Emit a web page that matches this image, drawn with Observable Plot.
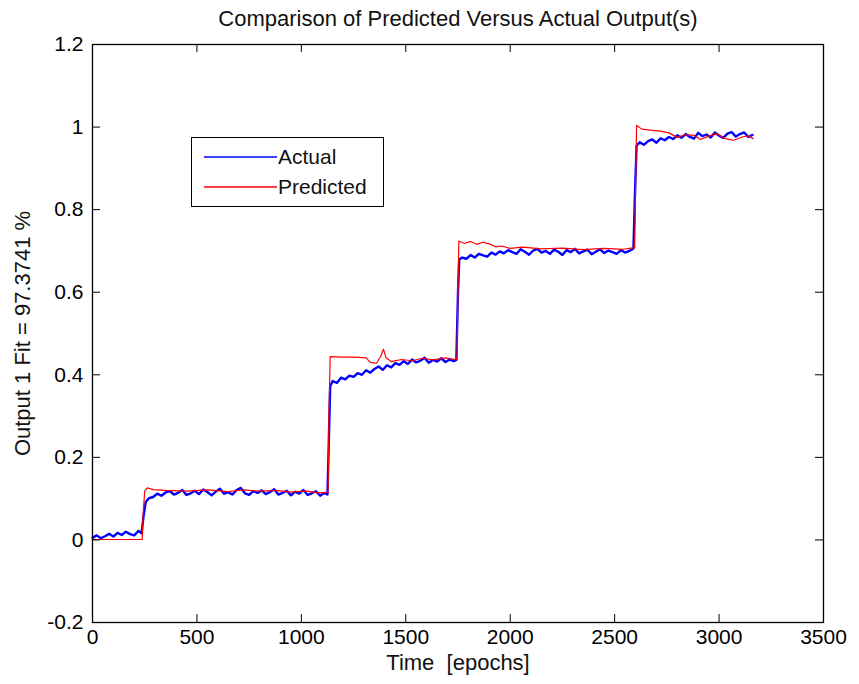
<!DOCTYPE html>
<html>
<head>
<meta charset="utf-8">
<script src="https://cdn.jsdelivr.net/npm/d3@7"></script>
<script src="https://cdn.jsdelivr.net/npm/@observablehq/plot@0.6"></script>
<style>
  html, body { margin: 0; padding: 0; background: #fff; }
  #wrap { position: relative; width: 859px; height: 684px; font-family: "Liberation Sans", Arial, sans-serif; }
  #legend { position: absolute; left: 191px; top: 137px; width: 193px; height: 70px; border: 1.5px solid #000; background: #fff; box-sizing: border-box; }
  #legend svg { position: absolute; left: 0; top: 0; }
</style>
</head>
<body>
<div id="wrap"><div id="chart"></div><div id="legend"></div></div>
<script>
// ---- data ----
const chartTitle = "Comparison of Predicted Versus Actual Output(s)";
const xLabel = "Time\u00a0 [epochs]";
const yLabel = "Output 1 Fit = 97.3741 %";
const seriesNames = ["Actual", "Predicted"];

const xTicks = [0, 500, 1000, 1500, 2000, 2500, 3000, 3500];
const xTickLabels = ["0", "500", "1000", "1500", "2000", "2500", "3000", "3500"];
const yTicks = [-0.2, 0, 0.2, 0.4, 0.6, 0.8, 1, 1.2];
const yTickLabels = ["-0.2", "0", "0.2", "0.4", "0.6", "0.8", "1", "1.2"];

const actualTime = [
  0, 20, 40, 60, 80, 100, 120, 140, 160, 180, 200, 220, 235,
  245, 255, 270,
  290, 310, 330, 350, 370, 390, 410, 430, 450, 470, 490, 510, 530, 550, 570, 590, 610, 630, 650, 670,
  690, 710, 730, 750, 770, 790, 810, 830, 850, 870, 890, 910, 930, 950, 970, 990, 1010, 1030, 1050, 1070,
  1090, 1110, 1125,
  1132, 1138, 1150, 1170, 1190, 1210, 1230, 1250, 1270, 1290, 1310, 1330, 1350, 1370, 1390, 1410, 1430,
  1450, 1470, 1490, 1510, 1530, 1550, 1570, 1590, 1610, 1630, 1650, 1670, 1690, 1710, 1730, 1742,
  1750, 1756, 1770, 1790, 1810, 1830, 1850, 1870, 1890, 1910, 1930, 1950, 1970, 1990, 2010, 2030, 2050,
  2070, 2090, 2110, 2130, 2150, 2170, 2190, 2210, 2230, 2250, 2270, 2290, 2310, 2330, 2350, 2370, 2390,
  2410, 2430, 2450, 2470, 2490, 2510, 2530, 2550, 2570, 2590,
  2598, 2605, 2620, 2640, 2660, 2680, 2700, 2720, 2740, 2760, 2780, 2800, 2820, 2840, 2860, 2880, 2900,
  2920, 2940, 2960, 2980, 3000, 3020, 3040, 3060, 3080, 3100, 3120, 3140, 3160
];
const actualValue = [
  0.005, 0.011, 0.004, 0.009, 0.015, 0.008, 0.017, 0.012, 0.020, 0.014, 0.011, 0.022, 0.016,
  0.060, 0.092, 0.101,
  0.104, 0.112, 0.107, 0.115, 0.118, 0.110, 0.114, 0.121, 0.109, 0.113, 0.119, 0.111, 0.122, 0.116, 0.108, 0.117, 0.124, 0.112, 0.115, 0.110,
  0.121, 0.126, 0.113, 0.109, 0.118, 0.114, 0.120, 0.111, 0.116, 0.123, 0.110, 0.114, 0.119, 0.108, 0.117, 0.112, 0.121, 0.109, 0.113, 0.118,
  0.107, 0.114, 0.110,
  0.250, 0.372, 0.385, 0.380, 0.393, 0.389, 0.398, 0.395, 0.404, 0.400, 0.411, 0.405, 0.414, 0.420, 0.412, 0.423, 0.418,
  0.428, 0.424, 0.433, 0.426, 0.437, 0.430, 0.434, 0.441, 0.429, 0.436, 0.432, 0.440, 0.431, 0.437, 0.433, 0.436,
  0.600, 0.679, 0.684, 0.681, 0.690, 0.684, 0.693, 0.689, 0.686, 0.696, 0.691, 0.699, 0.694, 0.702, 0.697, 0.693, 0.704,
  0.698, 0.691, 0.701, 0.705, 0.696, 0.700, 0.693, 0.703, 0.698, 0.690, 0.702, 0.697, 0.705, 0.694, 0.699, 0.703, 0.692,
  0.698, 0.704, 0.695, 0.701, 0.697, 0.693, 0.702, 0.696, 0.700, 0.706,
  0.850, 0.955, 0.963, 0.957, 0.966, 0.970, 0.962, 0.973, 0.968, 0.976, 0.971, 0.980, 0.974, 0.983, 0.976, 0.972, 0.986,
  0.978, 0.982, 0.975, 0.987, 0.979, 0.974, 0.984, 0.988, 0.977, 0.983, 0.987, 0.976, 0.981
];

const predictedTime = [
  0, 238, 242, 250, 262, 290, 350, 450, 550, 650, 720, 800, 880, 950, 1020, 1080, 1128,
  1132, 1138, 1200, 1260, 1310, 1330, 1360, 1380, 1393, 1405, 1430, 1480, 1530, 1580, 1630, 1690, 1745,
  1749, 1754, 1780, 1810, 1840, 1870, 1900, 1930, 1960, 2000, 2060, 2150, 2250, 2350, 2450, 2540, 2596,
  2600, 2605, 2630, 2680, 2720, 2760, 2800, 2840, 2880, 2910, 2950, 2990, 3030, 3070, 3110, 3140, 3163
];
const predictedValue = [
  0.001, 0.001, 0.060, 0.118, 0.126, 0.122, 0.120, 0.118, 0.121, 0.117, 0.121, 0.118, 0.120, 0.116, 0.119, 0.114, 0.115,
  0.300, 0.444, 0.443, 0.443, 0.441, 0.430, 0.428, 0.445, 0.462, 0.442, 0.432, 0.437, 0.434, 0.440, 0.436, 0.441, 0.436,
  0.580, 0.724, 0.718, 0.723, 0.716, 0.721, 0.717, 0.710, 0.712, 0.706, 0.709, 0.705, 0.707, 0.703, 0.706, 0.704, 0.708,
  0.850, 1.004, 0.995, 0.992, 0.990, 0.986, 0.975, 0.982, 0.980, 0.970, 0.978, 0.984, 0.972, 0.968, 0.976, 0.979, 0.972
];

const colors = ["#0000ff", "#ff0000"];

// ---- layout ----
const W = 859, H = 684;
const mL = 92, mR = 36, mT = 44, mB = 62;
const fW = W - mL - mR, fH = H - mT - mB;
const tickLen = 8;
const font = "\"Liberation Sans\", Arial, sans-serif";

const actual = actualTime.map((t, i) => ({t, v: actualValue[i]}));
const predicted = predictedTime.map((t, i) => ({t, v: predictedValue[i]}));

const plot = Plot.plot({
  width: W, height: H,
  marginLeft: mL, marginRight: mR, marginTop: mT, marginBottom: mB,
  style: {fontFamily: font, fontSize: "21px", background: "#fff", color: "#000", overflow: "visible"},
  x: {domain: [0, 3500], nice: false},
  y: {domain: [-0.2, 1.2], nice: false},
  marks: [
    Plot.lineY(actual, {x: "t", y: "v", stroke: colors[0], strokeWidth: 2.4, curve: "linear"}),
    Plot.lineY(predicted, {x: "t", y: "v", stroke: colors[1], strokeWidth: 1.2, curve: "linear"}),
    // inward ticks on all four sides
    Plot.tickX(xTicks, {x: d => d, insetTop: fH - tickLen, stroke: "#000"}),
    Plot.tickX(xTicks, {x: d => d, insetBottom: fH - tickLen, stroke: "#000"}),
    Plot.tickY(yTicks, {y: d => d, insetRight: fW - tickLen, stroke: "#000"}),
    Plot.tickY(yTicks, {y: d => d, insetLeft: fW - tickLen, stroke: "#000"}),
    Plot.axisX({ticks: xTicks, tickSize: 0, tickPadding: 7, tickFormat: d => xTickLabels[xTicks.indexOf(d)], label: null, fontSize: 21}),
    Plot.axisY({ticks: yTicks, tickSize: 0, tickPadding: 9, tickFormat: d => yTickLabels[yTicks.findIndex(v => Math.abs(v - d) < 1e-9)], label: null, fontSize: 21}),
    Plot.frame({stroke: "#000", strokeWidth: 1.3}),
    Plot.text([chartTitle], {frameAnchor: "top", lineAnchor: "middle", dy: -26, fontSize: 22, fill: "#111"}),
    Plot.text([xLabel], {frameAnchor: "bottom", lineAnchor: "middle", dy: 40, fontSize: 22, fill: "#111"}),
    Plot.text([yLabel], {frameAnchor: "left", textAnchor: "middle", lineAnchor: "middle", dx: -70, rotate: -90, fontSize: 22, fill: "#111"})
  ]
});
document.getElementById("chart").appendChild(plot);

// ---- legend ----
const lg = d3.select("#legend").append("svg").attr("width", 193).attr("height", 70)
  .style("font-family", font).style("font-size", "21px");
seriesNames.forEach((name, i) => {
  const y = 19 + i * 30;
  lg.append("line").attr("x1", 12).attr("x2", 85).attr("y1", y).attr("y2", y)
    .attr("stroke", colors[i]).attr("stroke-width", 1.5);
  lg.append("text").attr("x", 86).attr("y", y).attr("dy", "0.35em").attr("fill", "#111").text(name);
});
</script>
</body>
</html>
